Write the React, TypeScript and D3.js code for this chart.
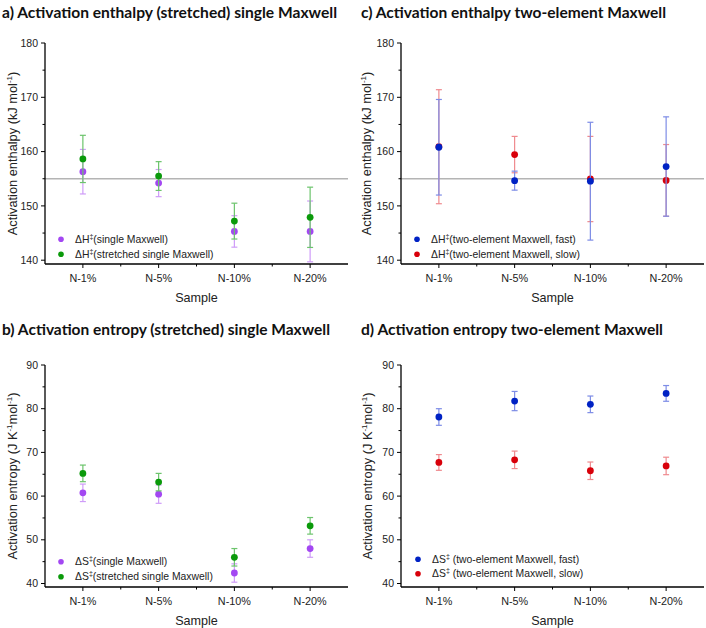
import React from "react";
import * as d3 from "d3";

const categories = ["N-1%", "N-5%", "N-10%", "N-20%"];

// Panel a: activation enthalpy (kJ/mol)
const aSingle = [156.3, 154.2, 145.3, 145.3];
const aSingleErr = [4.1, 2.5, 2.9, 5.6];
const aStretched = [158.65, 155.5, 147.2, 147.9];
const aStretchedErr = [4.35, 2.65, 3.3, 5.55];

// Panel c: two-element Maxwell enthalpy
const cFast = [160.8, 154.65, 154.55, 157.25];
const cFastErr = [8.8, 1.75, 10.85, 9.15];
const cSlow = [160.9, 159.45, 154.95, 154.7];
const cSlowErr = [10.5, 3.35, 7.85, 6.6];

// Panel b: activation entropy (J/K/mol)
const bSingle = [60.75, 60.45, 42.4, 48.0];
const bSingleErr = [2.0, 2.1, 2.1, 2.0];
const bStretched = [65.2, 63.2, 46.0, 53.2];
const bStretchedErr = [1.9, 2.0, 2.0, 1.9];

// Panel d: two-element Maxwell entropy
const dFast = [78.1, 81.75, 81.0, 83.5];
const dFastErr = [1.9, 2.2, 1.9, 1.8];
const dSlow = [67.7, 68.3, 65.8, 66.9];
const dSlowErr = [1.8, 2.0, 2.0, 2.0];

const enthalpyTicks = [140, 150, 160, 170, 180];
const enthalpyMinor = [145, 155, 165, 175];
const entropyTicks = [40, 50, 60, 70, 80, 90];
const entropyMinor = [45, 55, 65, 75, 85];
const refEnthalpy = 155;

const PURPLE = "#a347f2";
const GREEN = "#0a9a0a";
const BLUE = "#0022c4";
const RED = "#d8000a";
const PURPLE_L = "#cf9cf8";
const GREEN_L = "#6cc46c";
const BLUE_L = "#7d8ce6";
const RED_L = "#ef8a8e";

const SANS = "Arial, 'Liberation Sans', Helvetica, sans-serif";
const TITLE_FONT = "Lato, 'Open Sans', sans-serif";

type Series = { values: number[]; errs: number[]; color: string; barColor: string };

type LegendItem = { color: string; main: string; sup: string; rest: string };

type PanelProps = {
  title: string;
  titleX: number;
  titleY: number;
  titleLen: number;
  xRange: [number, number];
  yDomain: [number, number];
  yRange: [number, number];
  ticks: number[];
  minor: number[];
  series: Series[];
  legend: LegendItem[];
  legendX: number;
  legendY: number[];
  ylabelParts: { t: string; sup?: boolean }[];
  ylabelX: number;
  refLine?: number;
};

function Panel(p: PanelProps) {
  const x = d3.scaleLinear().domain([0.5, 4.5]).range(p.xRange);
  const y = d3.scaleLinear().domain(p.yDomain).range(p.yRange);
  const axisY = p.yRange[0];
  const axisX = p.xRange[0];
  const minorX = [1.5, 2.5, 3.5];
  const midY = (p.yRange[0] + p.yRange[1]) / 2;
  const cap = 3;
  return (
    <g>
      <text
        x={p.titleX}
        y={p.titleY}
        fontFamily={TITLE_FONT}
        fontWeight={700}
        fontSize={16}
        textLength={p.titleLen}
        lengthAdjust="spacingAndGlyphs"
        fill="#111"
      >
        {p.title}
      </text>
      {p.refLine !== undefined && (
        <line
          x1={axisX}
          x2={p.xRange[1]}
          y1={y(p.refLine)}
          y2={y(p.refLine)}
          stroke="#b4b4b4"
          strokeWidth={1.6}
        />
      )}
      {p.series.map((s, si) => (
        <g key={"s" + si}>
          <g stroke={s.barColor} strokeWidth={1.2} fill="none">
            {s.values.map((v, i) => {
              const cx = x(i + 1);
              const top = y(v + s.errs[i]);
              const bot = y(v - s.errs[i]);
              return (
                <g key={i}>
                  <line x1={cx} x2={cx} y1={top} y2={bot} />
                  <line x1={cx - cap} x2={cx + cap} y1={top} y2={top} />
                  <line x1={cx - cap} x2={cx + cap} y1={bot} y2={bot} />
                </g>
              );
            })}
          </g>
          <g fill={s.color}>
            {s.values.map((v, i) => (
              <circle key={i} cx={x(i + 1)} cy={y(v)} r={3.4} />
            ))}
          </g>
        </g>
      ))}
      <line x1={axisX} x2={axisX} y1={p.yRange[1]} y2={axisY} stroke="#000" strokeWidth={1.3} />
      <line x1={axisX} x2={p.xRange[1]} y1={axisY} y2={axisY} stroke="#000" strokeWidth={1.3} />
      {p.ticks.map((t) => (
        <g key={"yt" + t}>
          <line x1={axisX - 4} x2={axisX} y1={y(t)} y2={y(t)} stroke="#000" strokeWidth={1} />
          <text
            x={axisX - 7}
            y={y(t)}
            dy="0.35em"
            textAnchor="end"
            fontFamily={SANS}
            fontSize={10.5}
            fill="#222"
          >
            {t}
          </text>
        </g>
      ))}
      {p.minor.map((t) => (
        <line key={"ym" + t} x1={axisX - 2.5} x2={axisX} y1={y(t)} y2={y(t)} stroke="#000" strokeWidth={1} />
      ))}
      {categories.map((c, i) => (
        <g key={c}>
          <line x1={x(i + 1)} x2={x(i + 1)} y1={axisY} y2={axisY + 4} stroke="#000" strokeWidth={1} />
          <text
            x={x(i + 1)}
            y={axisY + 18}
            textAnchor="middle"
            fontFamily={SANS}
            fontSize={10.8}
            fill="#222"
          >
            {c}
          </text>
        </g>
      ))}
      {minorX.map((m) => (
        <line key={"xm" + m} x1={x(m)} x2={x(m)} y1={axisY} y2={axisY + 2.5} stroke="#000" strokeWidth={1} />
      ))}
      <text
        x={(p.xRange[0] + p.xRange[1]) / 2}
        y={axisY + 38}
        textAnchor="middle"
        fontFamily={SANS}
        fontSize={12.6}
        fill="#222"
      >
        Sample
      </text>
      <text
        transform={`translate(${p.ylabelX},${midY}) rotate(-90)`}
        textAnchor="middle"
        fontFamily={SANS}
        fontSize={12.8}
        fill="#222"
      >
        {p.ylabelParts.map((part, i) =>
          part.sup ? (
            <tspan key={i} fontSize={8} dy={-5}>
              {part.t}
            </tspan>
          ) : (
            <tspan key={i} dy={i > 0 && p.ylabelParts[i - 1].sup ? 5 : 0}>
              {part.t}
            </tspan>
          )
        )}
      </text>
      {p.legend.map((l, i) => (
        <g key={"l" + i}>
          <circle cx={p.legendX} cy={p.legendY[i]} r={2.8} fill={l.color} />
          <text
            x={p.legendX + 14}
            y={p.legendY[i]}
            dy="0.35em"
            fontFamily={SANS}
            fontSize={10.4}
            fill="#222"
          >
            <tspan>{l.main}</tspan>
            <tspan fontSize={7} dy={-4}>
              {l.sup}
            </tspan>
            <tspan dy={4}>{l.rest}</tspan>
          </text>
        </g>
      ))}
    </g>
  );
}

export default function App() {
  const enthLabel = [{ t: "Activation enthalpy (kJ mol" }, { t: "-1", sup: true }, { t: ")" }];
  const entrLabel = [
    { t: "Activation entropy (J K" },
    { t: "-1", sup: true },
    { t: "mol" },
    { t: "-1", sup: true },
    { t: ")" },
  ];
  return (
    <svg
      width={706}
      height={628}
      style={{ position: "absolute", left: 0, top: 0, background: "#fff" }}
    >
      <rect width={706} height={628} fill="#fff" />
      <Panel
        title="a) Activation enthalpy (stretched) single Maxwell"
        titleX={2}
        titleY={17.5}
        titleLen={335}
        xRange={[45, 348]}
        yDomain={[139.3, 180]}
        yRange={[264, 43]}
        ticks={enthalpyTicks}
        minor={enthalpyMinor}
        refLine={refEnthalpy}
        series={[
          { values: aSingle, errs: aSingleErr, color: PURPLE, barColor: PURPLE_L },
          { values: aStretched, errs: aStretchedErr, color: GREEN, barColor: GREEN_L },
        ]}
        legend={[
          { color: PURPLE, main: "ΔH", sup: "‡", rest: "(single Maxwell)" },
          { color: GREEN, main: "ΔH", sup: "‡", rest: "(stretched single Maxwell)" },
        ]}
        legendX={61}
        legendY={[239.3, 254.3]}
        ylabelParts={enthLabel}
        ylabelX={16.5}
      />
      <Panel
        title="c) Activation enthalpy two-element Maxwell"
        titleX={361}
        titleY={17.5}
        titleLen={305}
        xRange={[401, 704]}
        yDomain={[139.3, 180]}
        yRange={[264, 43]}
        ticks={enthalpyTicks}
        minor={enthalpyMinor}
        refLine={refEnthalpy}
        series={[
          { values: cSlow, errs: cSlowErr, color: RED, barColor: RED_L },
          { values: cFast, errs: cFastErr, color: BLUE, barColor: BLUE_L },
        ]}
        legend={[
          { color: BLUE, main: "ΔH", sup: "‡", rest: "(two-element Maxwell, fast)" },
          { color: RED, main: "ΔH", sup: "‡", rest: "(two-element Maxwell, slow)" },
        ]}
        legendX={417}
        legendY={[239.3, 254.3]}
        ylabelParts={enthLabel}
        ylabelX={371}
      />
      <Panel
        title="b) Activation entropy (stretched) single Maxwell"
        titleX={2}
        titleY={335}
        titleLen={328}
        xRange={[45, 348]}
        yDomain={[39.2, 90]}
        yRange={[587, 365]}
        ticks={entropyTicks}
        minor={entropyMinor}
        series={[
          { values: bSingle, errs: bSingleErr, color: PURPLE, barColor: PURPLE_L },
          { values: bStretched, errs: bStretchedErr, color: GREEN, barColor: GREEN_L },
        ]}
        legend={[
          { color: PURPLE, main: "ΔS", sup: "‡", rest: "(single Maxwell)" },
          { color: GREEN, main: "ΔS", sup: "‡", rest: "(stretched single Maxwell)" },
        ]}
        legendX={61}
        legendY={[561.7, 576.7]}
        ylabelParts={entrLabel}
        ylabelX={17}
      />
      <Panel
        title="d) Activation entropy two-element Maxwell"
        titleX={361}
        titleY={335}
        titleLen={302}
        xRange={[401, 704]}
        yDomain={[39.2, 90]}
        yRange={[587, 365]}
        ticks={entropyTicks}
        minor={entropyMinor}
        series={[
          { values: dSlow, errs: dSlowErr, color: RED, barColor: RED_L },
          { values: dFast, errs: dFastErr, color: BLUE, barColor: BLUE_L },
        ]}
        legend={[
          { color: BLUE, main: "ΔS", sup: "‡", rest: " (two-element Maxwell, fast)" },
          { color: RED, main: "ΔS", sup: "‡", rest: " (two-element Maxwell, slow)" },
        ]}
        legendX={418}
        legendY={[559.3, 573.7]}
        ylabelParts={entrLabel}
        ylabelX={372}
      />
    </svg>
  );
}
